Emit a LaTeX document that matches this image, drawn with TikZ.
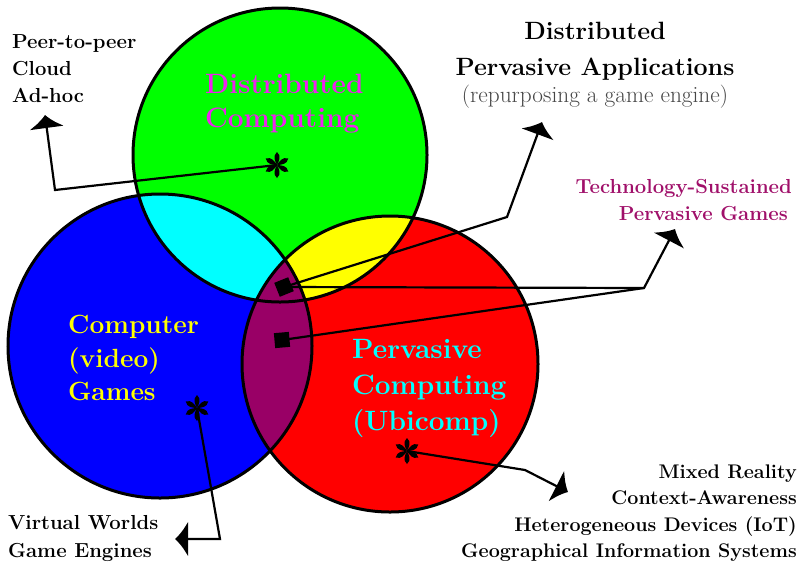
\documentclass[tikz,border=0pt]{standalone}
\usepackage{fontspec}
\usetikzlibrary{arrows.meta}
\definecolor{gC}{RGB}{0,255,0}
\definecolor{bC}{RGB}{0,0,255}
\definecolor{rC}{RGB}{255,0,0}
\definecolor{cC}{RGB}{0,255,255}
\definecolor{yC}{RGB}{255,255,0}
\definecolor{pC}{RGB}{153,0,102}
\definecolor{mC}{RGB}{238,34,238}
\definecolor{tsC}{RGB}{160,16,106}
\definecolor{grC}{RGB}{70,70,70}
\begin{document}
\begin{tikzpicture}[x=1pt,y=-1pt,
  lab/.style={font=\fontsize{20.3}{27}\selectfont\bfseries, inner sep=0pt},
  labr/.style={font=\fontsize{19.7}{27}\selectfont\bfseries, inner sep=0pt},
  big/.style={font=\fontsize{28}{35}\selectfont\bfseries, inner sep=0pt},
  bigy/.style={font=\fontsize{26.3}{35}\selectfont\bfseries, inner sep=0pt},
  ttl/.style={font=\fontsize{25}{30}\selectfont\bfseries, inner sep=0pt},
  sub/.style={font=\fontsize{23.3}{26}\selectfont, inner sep=0pt, text=grC},
  conn/.style={draw, line width=2.2pt, line join=miter},
  arr/.style={-{Latex[length=13pt,width=36pt,inset=0pt]}},
  sqbox/.style={fill=black, minimum size=15pt, inner sep=0pt},
  asterisk/.pic={
    \foreach \a in {0,60,...,300}
      \fill[black, rotate=\a] (0,0) .. controls (-2,-4) and (-4.6,-9) .. (0,-13)
        .. controls (4.6,-9) and (2,-4) .. (0,0);
  }]
\useasboundingbox (0,0) rectangle (802,566);
\coordinate (cg) at (280,155);
\coordinate (cb) at (160,346);
\coordinate (cr) at (390,364);
% fills
\fill[gC] (cg) circle[radius=147pt];
\fill[bC] (cb) circle[radius=152pt];
\fill[rC] (cr) circle[radius=148pt];
\begin{scope}
  \clip (cg) circle[radius=147pt];
  \fill[cC] (cb) circle[radius=152pt];
  \fill[yC] (cr) circle[radius=148pt];
\end{scope}
\begin{scope}
  \clip (cb) circle[radius=152pt];
  \fill[pC] (cr) circle[radius=148pt];
\end{scope}
% outlines
\draw[line width=3pt] (cg) circle[radius=147pt];
\draw[line width=3pt] (cb) circle[radius=152pt];
\draw[line width=3pt] (cr) circle[radius=148pt];
% anchor points of asterisks and squares
\coordinate (ast1) at (277,165);
\coordinate (ast2) at (197,408);
\coordinate (ast3) at (407,451);
\coordinate (sq1c) at (284,287);
\coordinate (sq2c) at (282,340);
% connectors
\coordinate (b1) at (55,190);
\coordinate (t1) at (45,115);
\coordinate (b2) at (507,217);
\coordinate (t2) at (542,122);
\coordinate (b3) at (644,288);
\coordinate (t3) at (675,229);
\coordinate (b4) at (220,539);
\coordinate (t4) at (175,539);
\coordinate (b5) at (525,470);
\coordinate (t5) at (568,492);
\draw[conn,arr] (ast1) -- (b1) -- (t1);
\draw[conn,arr] (sq1c) -- (b2) -- (t2);
\draw[conn] (sq1c) -- (b3);
\draw[conn,arr] (sq2c) -- (b3) -- (t3);
\draw[conn,arr] (ast2) -- (b4) -- (t4);
\draw[conn,arr] (ast3) -- (b5) -- (t5);
% squares and asterisks on top
\node[sqbox, rotate=22] (sq1) at (sq1c) {};
\node[sqbox, rotate=5] (sq2) at (sq2c) {};
\pic at (ast1) {asterisk};
\pic at (ast2) {asterisk};
\pic at (ast3) {asterisk};
% texts
\node[lab, anchor=base west] (p1) at (12,48) {Peer-to-peer};
\node[lab, anchor=base west] (p2) at (12,75) {Cloud};
\node[lab, anchor=base west] (p3) at (12,102) {Ad-hoc};
\node[big, anchor=base west, text=mC] (dc1) at (205,93) {Distributed};
\node[big, anchor=base west, text=mC] (dc2) at (205,127) {Computing};
\node[ttl, anchor=base] (dp1) at (595,39) {Distributed};
\node[ttl, anchor=base] (dp2) at (595,75) {Pervasive Applications};
\node[sub, anchor=base] (dp3) at (595,102) {(repurposing a game engine)};
\node[lab, anchor=base east, text=tsC] (ts1) at (792,193) {Technology-Sustained};
\node[lab, anchor=base east, text=tsC] (ts2) at (788,220) {Pervasive Games};
\node[bigy, anchor=base west, text=yC] (cv1) at (68,333) {Computer};
\node[bigy, anchor=base west, text=yC] (cv2) at (68,367) {(video)};
\node[bigy, anchor=base west, text=yC] (cv3) at (68,400) {Games};
\node[big, anchor=base west, text=cC] (pc1) at (352,358) {Pervasive};
\node[big, anchor=base west, text=cC] (pc2) at (352,394) {Computing};
\node[big, anchor=base west, text=cC] (pc3) at (352,430) {(Ubicomp)};
\node[labr, anchor=base east] (m1) at (797,478) {Mixed Reality};
\node[labr, anchor=base east] (m2) at (797,504) {Context-Awareness};
\node[labr, anchor=base east] (m3) at (797,531) {Heterogeneous Devices (IoT)};
\node[labr, anchor=base east] (m4) at (797,557) {Geographical Information Systems};
\node[lab, anchor=base west] (v1) at (8,529) {Virtual Worlds};
\node[lab, anchor=base west] (v2) at (8,557) {Game Engines};
\end{tikzpicture}
\end{document}
